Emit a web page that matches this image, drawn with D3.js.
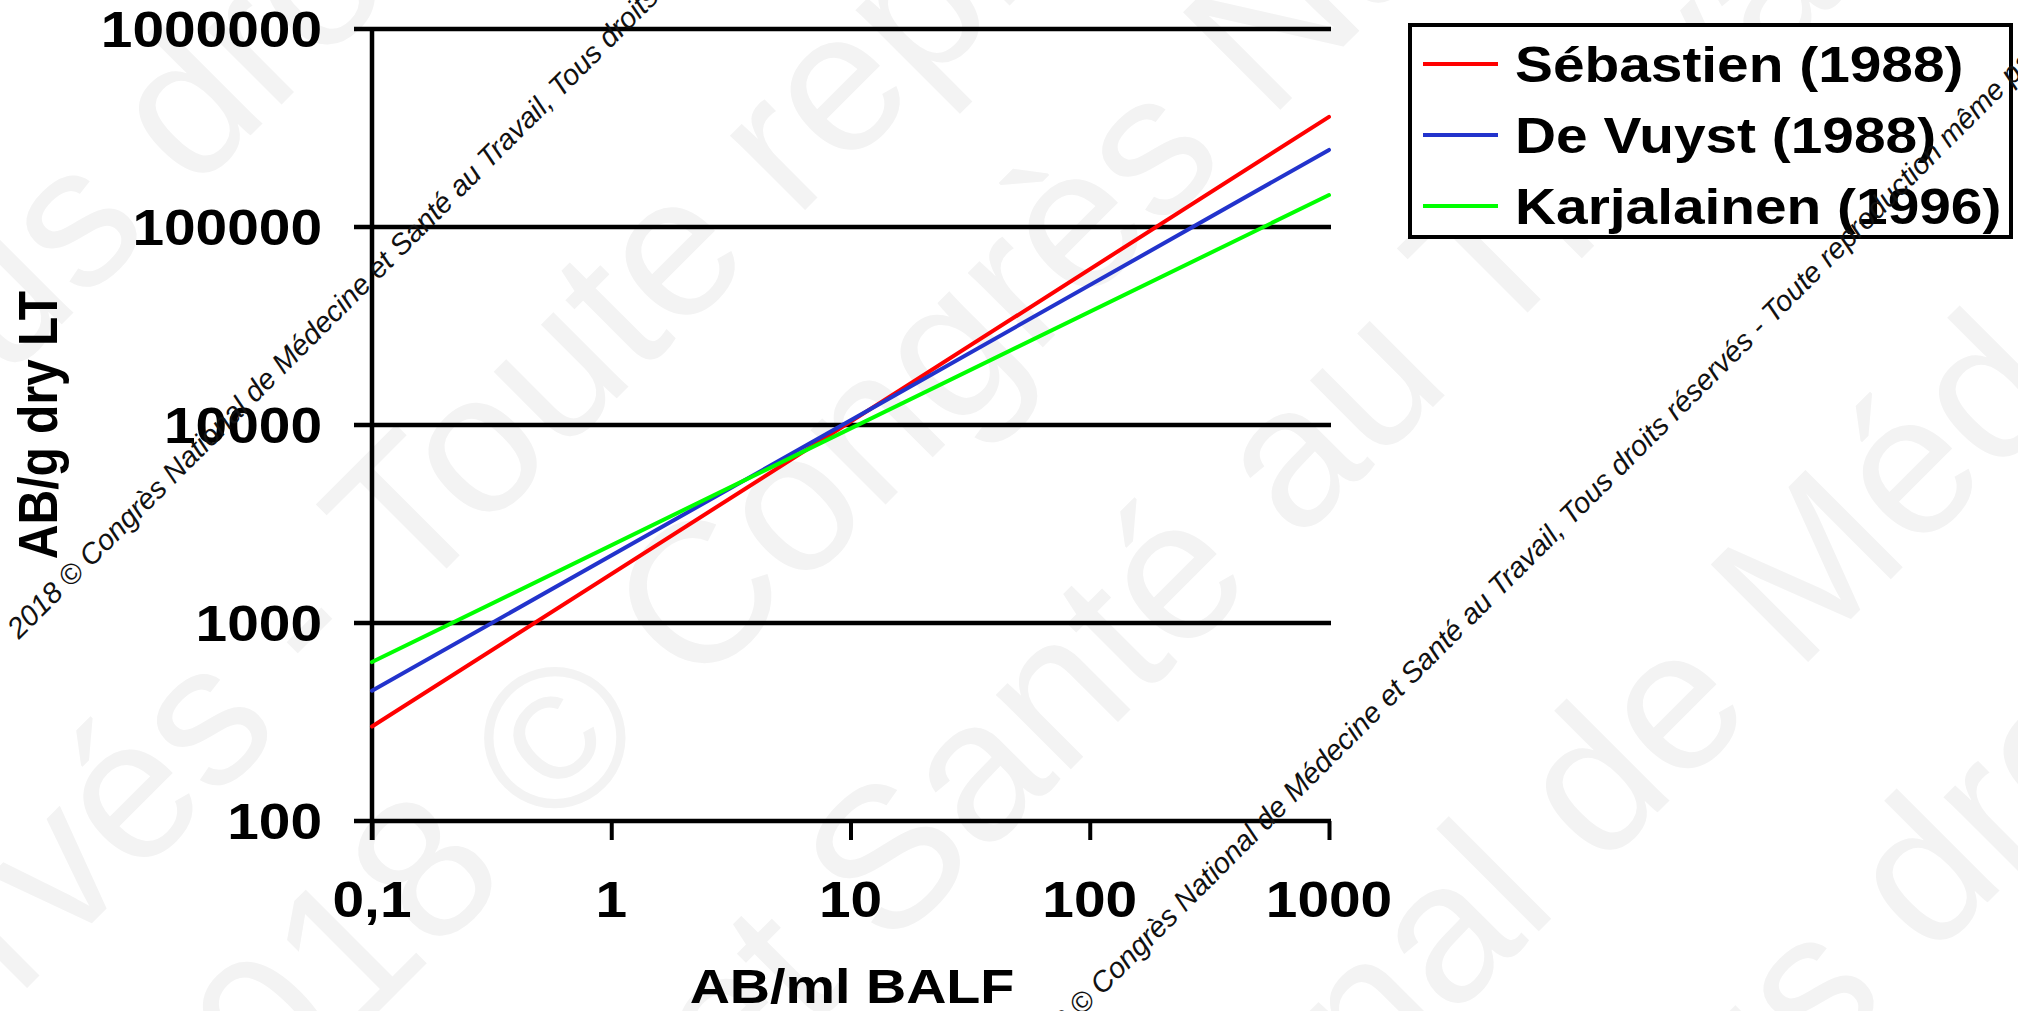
<!DOCTYPE html>
<meta charset="utf-8">
<head>
<style>
  body { margin: 0; background: #fff; }
  svg { display: block; }
  text { font-family: "Liberation Sans", Arial, sans-serif; white-space: pre; }
</style>
</head>
<script src="https://d3js.org/d3.v7.min.js"></script>
<div id="chart"></div>
<script>

// ---- data ----
var xPoints = [0.1, 1000];
var seriesNames = ["Sébastien (1988)", "De Vuyst (1988)", "Karjalainen (1996)"];
var seriesColors = ["#ff0000", "#2233cc", "#00ff00"];
var sebastien = [300, 360000];
var deVuyst = [455, 245000];
var karjalainen = [635, 145000];
var xTicks = [0.1, 1, 10, 100, 1000];
var xTickLabels = ["0,1", "1", "10", "100", "1000"];
var yTicks = [100, 1000, 10000, 100000, 1000000];

var notice = "2018 © Congrès National de Médecine et Santé au Travail, Tous droits réservés - Toute reproduction même partielle interdite";

// big faint watermark pieces: [x, y, text before point, text after point]
var bigMarks = [
  [193, 193, "Tous ", "droits réservés - Toute"],
  [410, 605, "droits réservés - ", "Toute reproduction même"],
  [695, 695, "2018 © ", "Congrès National de Médecine"],
  [888, 952, "Médecine et ", "Santé au Travail, Tous"],
  [1600, 870, "2018 © Congrès National ", "de Médecine et Santé"],
  [1930, 960, "Travail, Tous ", "droits réservés"]
];

var W = 2018, H = 1011;
var sx = 1.16;   // the whole chart is a bit wider than tall

var svg = d3.select("#chart").append("svg")
  .attr("width", W)
  .attr("height", H);

// watermark, behind everything
var wm = svg.append("g").attr("fill", "#f3f3f3").style("font-size", "200px");
bigMarks.forEach(function(m) {
  wm.append("text")
    .attr("transform", "translate(" + m[0] + "," + m[1] + ") rotate(-45)")
    .attr("text-anchor", "end")
    .text(m[2]);
  wm.append("text")
    .attr("transform", "translate(" + m[0] + "," + m[1] + ") rotate(-45)")
    .text(m[3]);
});

// scales
var x = d3.scaleLog().domain([0.1, 1000]).range([372, 1329]);
var y = d3.scaleLog().domain([100, 1000000]).range([821, 29]);

// gridlines (also the left ticks)
svg.append("g")
  .selectAll("line")
  .data(yTicks)
  .enter()
  .append("line")
    .attr("x1", 354)
    .attr("x2", 1331)
    .attr("y1", function(d) { return y(d); })
    .attr("y2", function(d) { return y(d); })
    .attr("stroke", "#000")
    .attr("stroke-width", 4.5);

// y axis line
svg.append("line")
  .attr("x1", x(0.1)).attr("x2", x(0.1))
  .attr("y1", y(1000000) - 2).attr("y2", y(100) + 19)
  .attr("stroke", "#000")
  .attr("stroke-width", 4.5);

// x axis ticks
var xAxis = svg.append("g")
  .attr("transform", "translate(0," + y(100) + ")")
  .call(d3.axisBottom(x).tickValues(xTicks).tickSize(19).tickFormat(""));
xAxis.select(".domain").remove();
xAxis.selectAll(".tick line").attr("stroke", "#000").attr("stroke-width", 4);

// x tick labels
svg.append("g")
  .selectAll("text")
  .data(xTicks)
  .enter()
  .append("text")
    .attr("transform", function(d) { return "translate(" + x(d) + ",917) scale(" + sx + ",1)"; })
    .attr("text-anchor", "middle")
    .style("font-size", "49px")
    .style("font-weight", "bold")
    .text(function(d, i) { return xTickLabels[i]; });

// y tick labels
svg.append("g")
  .selectAll("text")
  .data(yTicks)
  .enter()
  .append("text")
    .attr("transform", function(d) { return "translate(322," + (y(d) + 18) + ") scale(" + sx + ",1)"; })
    .attr("text-anchor", "end")
    .style("font-size", "49px")
    .style("font-weight", "bold")
    .text(function(d) { return d3.format("d")(d); });

// axis titles
svg.append("text")
  .attr("transform", "translate(852,1003) scale(" + sx + ",1)")
  .attr("text-anchor", "middle")
  .style("font-size", "48px")
  .style("font-weight", "bold")
  .text("AB/ml BALF");

svg.append("text")
  .attr("transform", "translate(57,425) scale(" + sx + ",1) rotate(-90)")
  .attr("text-anchor", "middle")
  .style("font-size", "48px")
  .style("font-weight", "bold")
  .text("AB/g dry LT");

// series lines
var allSeries = [sebastien, deVuyst, karjalainen];
var line = d3.line()
  .x(function(d, i) { return x(xPoints[i]); })
  .y(function(d) { return y(d); });

svg.append("g")
  .selectAll("path")
  .data(allSeries)
  .enter()
  .append("path")
    .attr("d", line)
    .attr("fill", "none")
    .attr("stroke", function(d, i) { return seriesColors[i]; })
    .attr("stroke-width", 4)
    .attr("stroke-linecap", "round");

// legend
var legend = svg.append("g");
legend.append("rect")
  .attr("x", 1410).attr("y", 25)
  .attr("width", 601).attr("height", 212)
  .attr("fill", "#fff")
  .attr("stroke", "#000")
  .attr("stroke-width", 4);

var rowY = [64, 135, 206];
seriesNames.forEach(function(name, i) {
  legend.append("line")
    .attr("x1", 1423).attr("x2", 1498)
    .attr("y1", rowY[i]).attr("y2", rowY[i])
    .attr("stroke", seriesColors[i])
    .attr("stroke-width", 4);
  legend.append("text")
    .attr("transform", "translate(1515," + (rowY[i] + 18) + ") scale(" + sx + ",1)")
    .style("font-size", "49px")
    .style("font-weight", "bold")
    .text(name);
});

// small diagonal notices (on top)
var small = svg.append("g").style("font-size", "29px").style("font-style", "italic").attr("fill", "#111");
small.append("text")
  .attr("transform", "translate(19,640) rotate(-45)")
  .text(notice);
small.append("text")
  .attr("transform", "translate(1030,1068) rotate(-45)")
  .text(notice);

</script>
